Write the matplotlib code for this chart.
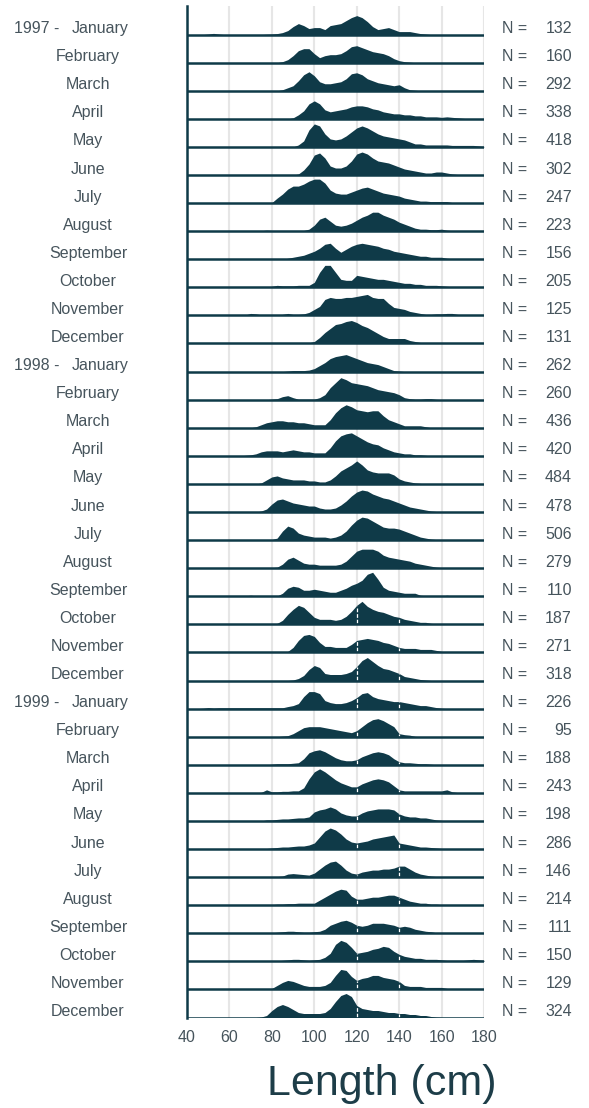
import numpy as np
import matplotlib
matplotlib.use('Agg')
import matplotlib.pyplot as plt
from matplotlib import transforms

plt.rcParams['font.family'] = ['Liberation Sans', 'DejaVu Sans']

# length classes (cm), 2.5 cm wide
lengths = np.arange(40, 180.1, 2.5)

months = ['January', 'February', 'March', 'April', 'May', 'June', 'July',
          'August', 'September', 'October', 'November', 'December']
years = ['1997', '1998', '1999']

n_1997 = [132, 160, 292, 338, 418, 302, 247, 223, 156, 205, 125, 131]
n_1998 = [262, 260, 436, 420, 484, 478, 506, 279, 110, 187, 271, 318]
n_1999 = [226, 95, 188, 243, 198, 286, 146, 214, 111, 150, 129, 324]

# relative frequency per class, starting at the class given in start_*
start_1997 = [50, 85, 85, 90, 92.5, 92.5, 80, 75, 87.5, 80, 67.5, 85]
freq_1997 = [
    [0.5, 1.2, 0.5, 0, 0, 0, 0, 0, 0, 0, 0, 0.3, 0.5, 1, 2, 4, 8, 11, 9, 6, 7, 7,
     5, 9, 10, 11, 14, 17, 19, 17, 13, 8, 5, 6, 7, 5, 3, 3, 3, 2, 1, 0.5],
    [1, 3, 7, 12, 14, 14, 9, 5, 7, 8, 8, 9, 12, 16, 17, 15, 13, 11, 10, 9,
     7, 4, 2, 1, 0.5],
    [1, 3, 5, 10, 16, 19, 15, 9, 7, 7, 8, 9, 12, 17, 18, 16, 12, 10, 8, 7,
     6, 5, 6, 3, 1, 0.5],
    [1, 4, 8, 15, 18, 15, 9, 7, 8, 9, 10, 12, 13, 13, 12, 10, 9, 7, 6, 5,
     5, 4, 4, 3, 3, 2, 2, 2, 1.5, 2, 1.5, 1, 0.5],
    [2, 6, 17, 23, 21, 13, 8, 7, 8, 11, 15, 19, 21, 19, 16, 13, 11, 10, 9, 8,
     7, 5, 3, 3, 2, 2, 2, 2, 2, 1.5, 1.5, 1.5, 1.5, 1.5, 1, 0.5],
    [1, 5, 11, 20, 22, 17, 9, 7, 7, 9, 14, 21, 23, 21, 17, 14, 13, 12, 10, 8,
     6, 5, 4, 3, 2, 2, 3, 3, 2, 1, 0.5],
    [0.5, 5, 9, 14, 17, 17, 19, 22, 24, 24, 20, 13, 10, 9, 9, 11, 13, 15, 16, 14,
     12, 10, 9, 8, 7, 5, 4, 3, 2, 2, 1.5, 1.5, 1.5, 1.5, 0.5],
    [0.5, 1, 0.7, 0.7, 0.7, 0.7, 0.7, 0.7, 0.7, 2, 6, 12, 14, 10, 6, 5, 6, 8, 11, 14,
     16, 19, 19, 16, 14, 12, 9, 7, 5, 3, 2, 2, 1.5, 1.5, 2, 1, 0.5],
    [1, 2, 3, 4, 6, 8, 11, 15, 16, 11, 7, 10, 13, 15, 16, 15, 14, 13, 11, 10,
     8, 7, 6, 5, 4, 3, 3, 2, 2, 2, 1, 0.5],
    [1, 2, 1.5, 1.5, 1.5, 2, 2, 2, 5, 15, 22, 22, 15, 8, 7, 7, 12, 11, 10, 9,
     8, 8, 7, 6, 5, 4, 4, 3, 3, 2, 2, 2, 1.5, 1, 0.5],
    [0.5, 2, 1.5, 0.5, 0.3, 0.3, 0.3, 1, 2, 1, 1, 1.5, 3, 6, 9, 16, 18, 17, 17, 18,
     18, 19, 20, 21, 18, 17, 17, 12, 8, 7, 6, 4, 3, 2, 1, 1, 1.5, 1.5, 2, 2, 1, 0.5],
    [1, 0.5, 0.7, 0.7, 0.7, 0.7, 2, 6, 11, 15, 19, 20, 22, 23, 21, 18, 16, 13, 10, 7,
     5, 5, 5, 5, 3, 2, 1, 0.5],
]

start_1998 = [87.5, 80, 72.5, 67.5, 75, 75, 80, 80, 67.5, 82.5, 87.5, 90]
freq_1998 = [
    [0.5, 1, 1, 1, 1.5, 3, 6, 9, 13, 15, 16, 17, 15, 13, 11, 9, 8, 7, 5, 3, 1, 0.5],
    [0.5, 1, 3, 4, 2, 0.5, 0.5, 0.5, 0.5, 2, 5, 12, 17, 22, 20, 17, 16, 15, 14, 12,
     10, 9, 8, 7, 5, 2, 1, 0.5, 0.5, 1, 1, 0.3],
    [1, 3, 5, 6, 7, 7, 6, 6, 5, 5, 4, 3, 3, 3, 8, 15, 20, 23, 21, 18,
     17, 16, 17, 17, 12, 8, 6, 4, 2, 2, 2, 2, 1],
    [0.5, 1, 2, 4, 5, 5, 5, 4, 5, 6, 5, 4, 4, 3, 3, 3, 8, 15, 20, 22,
     23, 20, 17, 14, 12, 11, 8, 6, 4, 3, 2, 2, 1, 1, 0.5],
    [1, 4, 7, 8, 6, 5, 4, 4, 4, 3, 3, 2, 2, 4, 8, 13, 16, 19, 23, 19,
     14, 12, 11, 11, 11, 9, 5, 3, 2, 1, 0.5],
    [1, 3, 8, 12, 13, 11, 9, 8, 7, 6, 6, 4, 3, 3, 4, 7, 11, 16, 20, 22,
     21, 18, 16, 14, 13, 11, 9, 7, 5, 4, 3, 2, 1, 0.5],
    [0.5, 2, 9, 14, 12, 7, 5, 4, 3, 3, 3, 2, 3, 5, 9, 15, 20, 23, 22, 19,
     16, 13, 12, 12, 11, 9, 7, 5, 3, 2, 1, 0.5],
    [0.5, 1, 4, 9, 11, 8, 5, 4, 4, 3, 3, 3, 3, 4, 7, 12, 17, 19, 19, 19,
     17, 13, 11, 10, 9, 8, 7, 5, 4, 3, 2, 1, 0.5],
    [0.5, 1, 0.5, 0.3, 0.3, 0.3, 0.3, 3, 8, 10, 9, 6, 6, 7, 6, 5, 4, 4, 6, 8,
     11, 13, 16, 22, 24, 17, 9, 6, 5, 4, 3, 3, 3, 1, 0.5, 0.3, 0.3, 0.3, 1, 0.3],
    [1, 4, 10, 15, 19, 17, 12, 7, 5, 5, 5, 4, 5, 8, 13, 19, 23, 18, 15, 13,
     12, 10, 8, 7, 5, 4, 3, 2, 2, 1, 0.5],
    [1, 5, 12, 17, 18, 16, 10, 6, 6, 5, 5, 5, 8, 12, 13, 14, 13, 12, 10, 9,
     7, 5, 4, 4, 4, 3, 3, 3, 2, 1, 0.5],
    [0.5, 2, 5, 11, 15, 13, 7, 6, 6, 6, 7, 9, 14, 20, 23, 19, 15, 12, 11, 9,
     7, 4, 3, 2, 1, 0.5],
]

start_1999 = [47.5, 85, 80, 75, 77.5, 77.5, 82.5, 80, 80, 80, 80, 75]
freq_1999 = [
    [0.3, 1, 0.5, 0.8, 0.8, 0.8, 0.8, 0.8, 0.8, 0.8, 0.8, 0.8, 0.8, 0.8, 0.8, 0.8,
     2, 3, 5, 12, 17, 17, 15, 8, 6, 5, 5, 6, 8, 11, 15, 16, 12, 10, 9, 8, 7, 7, 6, 5,
     4, 3, 3, 2, 1, 0.3],
    [0.5, 1, 3, 6, 9, 10, 10, 10, 9, 8, 7, 6, 5, 4, 6, 10, 14, 17, 18, 16,
     13, 10, 3, 2, 1.5, 0.3],
    [0.5, 1, 1, 1, 1.5, 2, 6, 12, 14, 15, 13, 10, 7, 5, 4, 4, 5, 8, 10, 12,
     13, 12, 10, 6, 3, 2, 2, 1.5, 1, 1, 0.5],
    [0.5, 3, 1, 1, 1.5, 1.5, 2, 2, 5, 14, 21, 24, 21, 17, 13, 10, 8, 6, 6, 9,
     11, 13, 14, 13, 11, 7, 3, 2, 2, 2, 2, 2, 2, 2, 2, 3, 1, 0.3],
    [1, 1, 1.5, 2, 2, 2.5, 3, 3, 4, 9, 11, 12, 14, 12, 8, 6, 5, 5, 8, 10,
     11, 12, 12, 12, 11, 7, 5, 4, 4, 3, 3, 2, 1, 0.5],
    [0.5, 1, 1.5, 2, 2, 2.5, 3, 3, 4, 6, 12, 18, 21, 19, 15, 10, 7, 6, 7, 8,
     10, 11, 12, 13, 14, 6, 5, 4, 3, 2, 2, 1.5, 1, 0.5],
    [0.5, 1, 3, 3.5, 3, 2.5, 2, 4, 8, 12, 15, 16, 12, 7, 4, 3, 5, 6, 7, 7,
     8, 8, 9, 11, 11, 8, 5, 3, 2, 1, 0.5],
    [0.5, 1, 1, 1.5, 1.5, 2, 2, 2, 2, 5, 8, 11, 14, 16, 15, 9, 6, 6, 7, 8,
     8, 9, 10, 10, 8, 6, 4, 3, 2, 2, 1, 1, 0.5],
    [0.5, 1, 1.5, 2, 2, 1.5, 1, 1, 1.5, 2, 4, 8, 10, 12, 13, 11, 8, 7, 8, 10,
     10, 10, 9, 8, 6, 7, 6, 4, 3, 2, 1.5, 0.5],
    [0.5, 0.5, 1, 1.5, 2, 2, 1.5, 1, 1.5, 2, 4, 8, 17, 21, 19, 14, 8, 9, 10, 12,
     13, 15, 14, 10, 7, 5, 4, 3, 3, 2, 2, 2, 1.5, 1, 1, 1, 1, 1.5, 2, 1.5, 1],
    [1, 4, 7, 9, 8, 6, 4, 3, 3, 3, 4, 7, 14, 20, 19, 13, 9, 11, 12, 14,
     14, 12, 11, 10, 8, 4, 3, 3, 3, 2, 2, 2, 2, 1, 0.3],
    [0.5, 2, 7, 11, 13, 11, 8, 5, 4, 4, 4, 4, 5, 9, 16, 22, 24, 21, 12, 9,
     8, 7, 7, 6, 5, 5, 4, 4, 3, 3, 2, 2, 1, 0.3],
]


def full_row(start, vals):
    h = np.zeros(len(lengths))
    i = int(round((start - 40) / 2.5))
    h[i:i + len(vals)] = vals
    return h


rows = []
labels_n = []
for starts, freqs, ns in [(start_1997, freq_1997, n_1997),
                          (start_1998, freq_1998, n_1998),
                          (start_1999, freq_1999, n_1999)]:
    for s, f, n in zip(starts, freqs, ns):
        rows.append(full_row(s, f))
        labels_n.append(n)

fill_col = '#0f3a48'
text_col = '#46545c'
W, H = 589, 1108
step = 28.1
nrows = len(rows)
fs = 11.5

fig = plt.figure(figsize=(W / 100, H / 100), dpi=100)
ax = fig.add_axes([187 / W, 1 - 1018 / H, (484 - 187) / W, (1018 - 6) / H])
top = (nrows - 1) * step + 28.6
ax.set_xlim(40, 180)
ax.set_ylim(-0.5, top)

ax.vlines(range(60, 181, 20), -0.5, top, color='#e6e6e6', lw=1.5, zorder=0)

trans = transforms.blended_transform_factory(fig.transFigure, ax.transData)
for i, h in enumerate(rows):
    base = (nrows - 1 - i) * step
    ax.fill_between(lengths, base, base + h, color=fill_col, lw=0, zorder=2)
    if i >= 21:
        for gx in (120, 140):
            k = int((gx - 40) / 2.5)
            if h[k] > 1.5:
                ax.vlines(gx, base + 1, base + h[k] - 0.5, color='white',
                          lw=0.9, linestyles=(0, (3, 1.5)), zorder=2.5)
    ax.hlines(base, 40, 180, color=fill_col, lw=1.8, zorder=3)

    month = months[i % 12]
    ty = base + 1.5
    if i % 12 == 0:
        ax.text(14 / W, ty, years[i // 12] + ' -', transform=trans, ha='left',
                va='baseline', fontsize=fs, color=text_col)
        ax.text(100 / W, ty, month, transform=trans, ha='center',
                va='baseline', fontsize=fs, color=text_col)
    else:
        ax.text(88 / W, ty, month, transform=trans, ha='center',
                va='baseline', fontsize=fs, color=text_col)
    ax.text(502 / W, ty, 'N =', transform=trans, ha='left', va='baseline',
            fontsize=fs, color=text_col)
    ax.text(572 / W, ty, str(labels_n[i]), transform=trans, ha='right',
            va='baseline', fontsize=fs, color=text_col)

for side in ['top', 'right', 'bottom']:
    ax.spines[side].set_visible(False)
ax.spines['left'].set_linewidth(1.8)
ax.spines['left'].set_color(fill_col)
ax.spines['left'].set_zorder(4)
ax.set_yticks([])
ax.set_xticks(range(40, 181, 20))
ax.tick_params(axis='x', length=0, pad=8.5, labelsize=fs, labelcolor=text_col)

fig.text(382 / W, 1 - 1095 / H, 'Length (cm)', ha='center', va='baseline',
         fontsize=31, color='#1d3d48')

fig.savefig('out.png', dpi=100, facecolor='white')
